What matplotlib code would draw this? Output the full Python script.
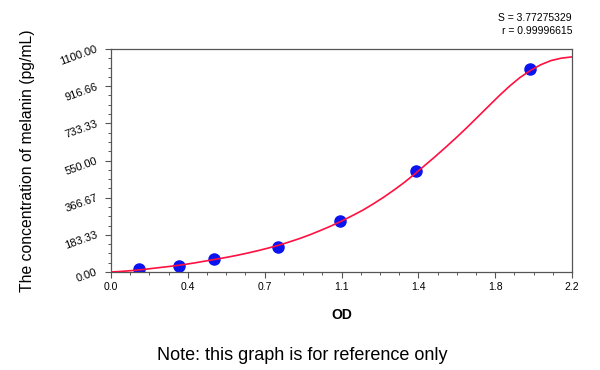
import matplotlib
matplotlib.use("Agg")
import matplotlib.pyplot as plt
from matplotlib.ticker import AutoMinorLocator

plt.rcParams['font.family'] = ['Liberation Sans', 'DejaVu Sans']

# Standard points
od = [0.134, 0.325, 0.493, 0.799, 1.095, 1.454, 2.0]
conc = [15.6, 31.25, 62.5, 125, 250, 500, 1000]

# Fitted curve
curve_od = [0.00, 0.05, 0.10, 0.15, 0.20, 0.25, 0.30, 0.35, 0.40, 0.45,
            0.50, 0.55, 0.60, 0.65, 0.70, 0.75, 0.80, 0.85, 0.90, 0.95,
            1.00, 1.05, 1.10, 1.15, 1.20, 1.25, 1.30, 1.35, 1.40, 1.45,
            1.50, 1.55, 1.60, 1.65, 1.70, 1.75, 1.80, 1.85, 1.90, 1.95,
            2.00, 2.05, 2.10, 2.15, 2.20]
curve_conc = [0, 3, 7, 12, 18, 24, 30, 37, 45, 54,
              63, 72, 82, 93, 105, 118, 132, 148, 165, 184,
              205, 227, 251, 277, 304, 335, 368, 404, 442, 484,
              528, 572, 618, 665, 714, 765, 816, 867, 915, 958,
              993, 1022, 1043, 1055, 1061]

x_ticks = [0.0, 2.2 / 6, 2 * 2.2 / 6, 3 * 2.2 / 6, 4 * 2.2 / 6, 5 * 2.2 / 6, 2.2]
x_labels = ['0.0', '0.4', '0.7', '1.1', '1.4', '1.8', '2.2']
y_ticks = [0, 1100 / 6, 2 * 1100 / 6, 3 * 1100 / 6, 4 * 1100 / 6, 5 * 1100 / 6, 1100]
y_labels = ['0.00', '183.33', '366.67', '550.00', '733.33', '916.66', '1100.00']

fig = plt.figure(figsize=(6, 3.7), dpi=100)
ax = fig.add_axes([111 / 600, 1 - 272 / 370, 461 / 600, 223 / 370])

ax.plot(od, conc, 'o', color='#0a14f0', markersize=8, zorder=2)
ax.plot(curve_od, curve_conc, '-', color='#ff1040', linewidth=1.2, zorder=3)

ax.set_xlim(0, 2.2)
ax.set_ylim(0, 1100)
ax.set_xticks(x_ticks)
ax.set_xticklabels(x_labels, fontsize=7.5)
ax.set_yticks(y_ticks)
ax.set_yticklabels(y_labels, fontsize=8, rotation=20, ha='right', va='center',
                   rotation_mode='anchor')
ax.xaxis.set_minor_locator(AutoMinorLocator(4))
ax.yaxis.set_minor_locator(AutoMinorLocator(4))
ax.tick_params(which='major', length=4, width=0.8, color='#555555')
ax.tick_params(axis='x', which='major', pad=3.5)
ax.tick_params(axis='y', which='major', pad=6)
ax.tick_params(which='minor', length=2.5, width=0.7, color='#555555')
for s in ax.spines.values():
    s.set_color('#555555')
    s.set_linewidth(0.9)

ax.set_xlabel('OD', fontsize=10, fontweight='bold', va='center')
ax.xaxis.set_label_coords(0.5, (272 - 315) / 223)
ax.set_ylabel('The concentration of melanin (pg/mL)', fontsize=11.3, va='center')
ax.yaxis.set_label_coords((28 - 111) / 461, 0.5)

fig.text(572 / 600, 1 - 18 / 370, 'S = 3.77275329', fontsize=7.5, ha='right', va='center')
fig.text(572 / 600, 1 - 31 / 370, 'r = 0.99996615', fontsize=7.5, ha='right', va='center')
fig.text(302 / 600, 1 - 355 / 370, 'Note: this graph is for reference only', fontsize=13,
         ha='center', va='center')

fig.savefig('out.png', dpi=100)
